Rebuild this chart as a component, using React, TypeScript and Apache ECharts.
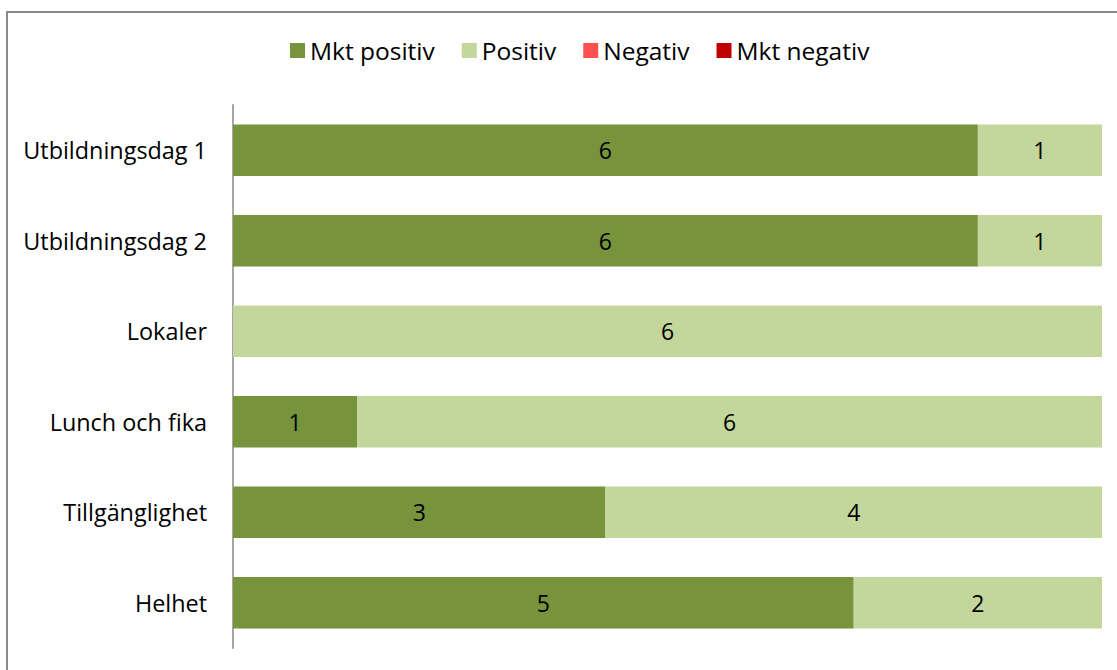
import React, { useEffect, useRef } from "react";
import * as echarts from "echarts";

const categories = ["Utbildningsdag 1", "Utbildningsdag 2", "Lokaler", "Lunch och fika", "Tillgänglighet", "Helhet"];
const seriesNames = ["Mkt positiv", "Positiv", "Negativ", "Mkt negativ"];
const mktPositiv = [6, 6, 0, 1, 3, 5];
const positiv = [1, 1, 6, 6, 4, 2];
const negativ = [0, 0, 0, 0, 0, 0];
const mktNegativ = [0, 0, 0, 0, 0, 0];
const colors = ["#77933C", "#C3D69B", "#FF5050", "#C00000"];

export default function App() {
  const ref = useRef<HTMLDivElement>(null);
  useEffect(() => {
    if (!ref.current) return;
    const chart = echarts.init(ref.current, null, { renderer: "svg" });
    const all = [mktPositiv, positiv, negativ, mktNegativ];
    const totals = categories.map((_, i) => all.reduce((s, arr) => s + arr[i], 0));
    const font = "Open Sans";
    chart.setOption({
      animation: false,
      textStyle: { fontFamily: font },
      graphic: [
        {
          type: "rect",
          shape: { x: 7, y: 12, width: 1200, height: 700 },
          style: { fill: "none", stroke: "#8a8a8a", lineWidth: 2 },
          silent: true,
        },
      ],
      legend: {
        data: seriesNames,
        top: 33,
        left: 285,
        itemWidth: 15,
        itemHeight: 15,
        itemGap: 27,
        icon: "rect",
        textStyle: { fontFamily: font, fontSize: 24.5, color: "#000" },
      },
      grid: { left: 233, right: 15, top: 105, bottom: 22, containLabel: false },
      xAxis: {
        type: "value",
        min: 0,
        max: 1,
        show: false,
      },
      yAxis: {
        type: "category",
        data: categories,
        inverse: true,
        axisLine: { show: true, lineStyle: { color: "#a6a6a6", width: 2 } },
        axisTick: { show: false },
        axisLabel: { fontFamily: font, fontSize: 23.4, color: "#000", margin: 26 },
      },
      series: all.map((arr, si) => ({
        name: seriesNames[si],
        type: "bar",
        stack: "total",
        barWidth: "57%",
        itemStyle: { color: colors[si] },
        label: {
          show: true,
          position: "inside",
          fontFamily: font,
          fontSize: 23,
          color: "#000",
          formatter: (p: any) => (arr[p.dataIndex] ? String(arr[p.dataIndex]) : ""),
        },
        data: arr.map((v, i) => v / totals[i]),
      })),
    });
    return () => chart.dispose();
  }, []);
  return <div ref={ref} style={{ position: "absolute", left: 0, top: 0, width: 1117, height: 670, background: "#fff" }} />;
}
